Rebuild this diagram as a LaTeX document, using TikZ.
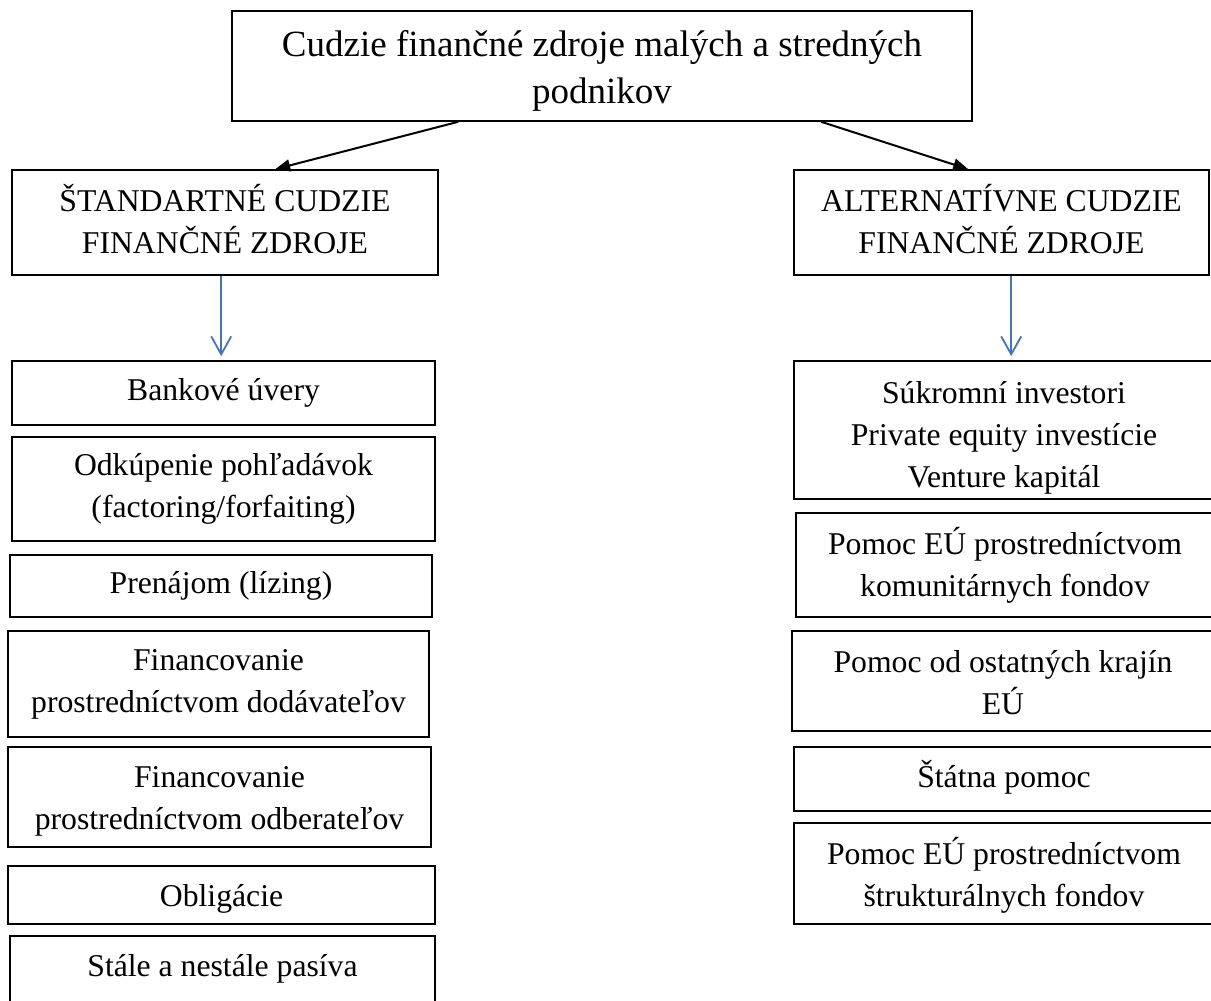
\documentclass[tikz,border=0pt]{standalone}
\usepackage{fontspec}
\setmainfont{Liberation Serif}
\usetikzlibrary{arrows.meta,calc}
\definecolor{wordblue}{RGB}{68,114,196}
\begin{document}
\begin{tikzpicture}[x=1pt,y=-1pt,
  box/.style={draw=black, line width=1.6pt, rectangle, inner sep=0pt},
  txt/.style={inner sep=0pt, align=center, font={\fontsize{31.7pt}{42pt}\selectfont}},
  toptxt/.style={txt, font={\fontsize{37pt}{47pt}\selectfont}},
  blackarrow/.style={line width=2pt, -{Triangle[length=15pt,width=12pt]}},
  bluearrow/.style={draw=wordblue, line width=1.8pt, -{Straight Barb[length=18pt,width=20pt,line width=1.8pt]}}
]
\useasboundingbox (0,0) rectangle (1211,1001);
\clip (0,0) rectangle (1211,1001);
\fill[white] (0,0) rectangle (1211,1001);

\node[box, minimum width=740pt, minimum height=110pt,
  label={[toptxt, name=topt, yshift=-5pt]center:{Cudzie finančné zdroje malých a stredných\\podnikov}}] (top) at (602,66) {};

\node[box, minimum width=426pt, minimum height=105pt,
  label={[txt, name=lht, yshift=3pt]center:{ŠTANDARTNÉ CUDZIE\\FINANČNÉ ZDROJE}}] (lh) at (225,222.5) {};
\node[box, minimum width=415pt, minimum height=105pt,
  label={[txt, name=rht, yshift=3pt]center:{ALTERNATÍVNE CUDZIE\\FINANČNÉ ZDROJE}}] (rh) at (1001.5,222.5) {};

% left column
\node[box, minimum width=423pt, minimum height=64pt,
  label={[txt, name=l1t]center:{Bankové úvery}}] (l1) at (223.5,393) {};
\node[box, minimum width=423pt, minimum height=104pt,
  label={[txt, name=l2t]center:{Odkúpenie pohľadávok\\(factoring/forfaiting)}}] (l2) at (223.5,489) {};
\node[box, minimum width=422pt, minimum height=62pt,
  label={[txt, name=l3t]center:{Prenájom (lízing)}}] (l3) at (221,586) {};
\node[box, minimum width=421pt, minimum height=106pt,
  label={[txt, name=l4t]center:{Financovanie\\prostredníctvom dodávateľov}}] (l4) at (218.5,684) {};
\node[box, minimum width=423pt, minimum height=100pt,
  label={[txt, name=l5t, yshift=-4pt]center:{Financovanie\\prostredníctvom odberateľov}}] (l5) at (219.5,797) {};
\node[box, minimum width=427pt, minimum height=58pt,
  label={[txt, name=l6t, yshift=-4pt]center:{Obligácie}}] (l6) at (221.5,895) {};
\node[box, minimum width=425pt, minimum height=68pt,
  label={[txt, name=l7t, yshift=1pt]center:{Stále a nestále pasíva}}] (l7) at (222.5,970) {};

% right column
\node[box, minimum width=420pt, minimum height=138pt,
  label={[txt, name=r1t, yshift=-8pt]center:{Súkromní investori\\Private equity investície\\Venture kapitál}}] (r1) at (1004,430) {};
\node[box, minimum width=418pt, minimum height=104pt,
  label={[txt, name=r2t]center:{Pomoc EÚ prostredníctvom\\komunitárnych fondov}}] (r2) at (1005,565) {};
\node[box, minimum width=422pt, minimum height=100pt,
  label={[txt, name=r3t, yshift=-2pt]center:{Pomoc od ostatných krajín\\EÚ}}] (r3) at (1003,681) {};
\node[box, minimum width=420pt, minimum height=64pt,
  label={[txt, name=r4t, yshift=2pt]center:{Štátna pomoc}}] (r4) at (1004,779) {};
\node[box, minimum width=420pt, minimum height=101pt,
  label={[txt, name=r5t, yshift=-2pt]center:{Pomoc EÚ prostredníctvom\\štrukturálnych fondov}}] (r5) at (1004,873.5) {};

% connectors
\draw[blackarrow] ($(top.south west)+(227,0)$) -- ($(lh.north west)+(264,0)$);
\draw[blackarrow] ($(top.south west)+(590,0)$) -- ($(rh.north west)+(175,0)$);
\draw[bluearrow] ($(lh.south west)+(210,0)$) -- ($(l1.north west)+(210,-4)$);
\draw[bluearrow] ($(rh.south west)+(218,0)$) -- ($(r1.north west)+(218,-4)$);
\end{tikzpicture}
\end{document}
